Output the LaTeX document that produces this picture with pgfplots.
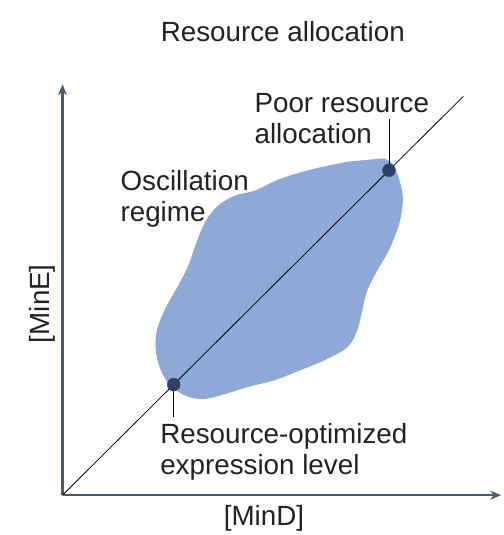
\documentclass[border=0pt]{standalone}
\usepackage{pgfplots}
\pgfplotsset{compat=1.18}
\usepackage{fontspec}
\setmainfont{Liberation Sans}
\usetikzlibrary{arrows.meta}

\definecolor{blobfill}{HTML}{8EA9D8}
\definecolor{axiscol}{HTML}{4A5A70}
\definecolor{dotcol}{HTML}{2F4160}
\definecolor{txt}{HTML}{222222}

\begin{document}
\begin{tikzpicture}
\begin{axis}[
  scale only axis,
  width=442pt, height=414pt,
  xmin=0, xmax=442, ymin=0, ymax=414,
  axis lines=left,
  axis line style={axiscol, line width=2.3pt, -{Stealth[length=11pt,width=9pt]}},
  xtick=\empty, ytick=\empty,
  clip=false,
  font=\fontsize{28}{32}\selectfont\color{txt},
  title={Resource allocation},
  title style={at={(axis cs:222,451)}, anchor=base},
  xlabel={[MinD]},
  xlabel style={at={(axis cs:203,-31)}, anchor=base},
  ylabel={[MinE]},
  ylabel style={at={(axis cs:-13,193)}, anchor=base, rotate=0},
]

% region where the system oscillates
\addplot[fill=blobfill, draw=none, smooth, tension=0.55] coordinates {
  (287,336) (254,329) (220,319) (194,307) (174,302) (157,292)
  (144,276) (134,252) (127,232) (117,212) (104,189) (95,166)
  (94,146) (99,126) (110,109) (127,99) (144,97) (164,102)
  (187,109) (214,116) (240,126) (264,136) (287,149) (297,166)
  (302,186) (307,206) (317,226) (330,249) (340,276) (343,299)
  (340,316) (334,332) (327,338) (320,339) (287,336)
};

% diagonal
\addplot[black, line width=0.8pt] coordinates {(0,0) (404,402)};

% leader lines
\addplot[black, line width=0.9pt] coordinates {(329,327) (329,379)};
\addplot[black, line width=0.9pt] coordinates {(112,111) (112,79)};

% points
\addplot[only marks, mark=*, mark size=6.5pt, dotcol] coordinates {(329,327.4) (112,111.4)};

\node[anchor=base west] at (axis cs:190,386) {Poor resource};
\node[anchor=base west] at (axis cs:190,354) {allocation};
\node[anchor=base west] at (axis cs:55,307) {Oscillation};
\node[anchor=base west] at (axis cs:55,276) {regime};
\node[anchor=base west] at (axis cs:95,52) {Resource-optimized};
\node[anchor=base west] at (axis cs:95,21) {expression level};

\path (axis cs:-63,-36) (axis cs:444,499);
\end{axis}
\end{tikzpicture}
\end{document}
